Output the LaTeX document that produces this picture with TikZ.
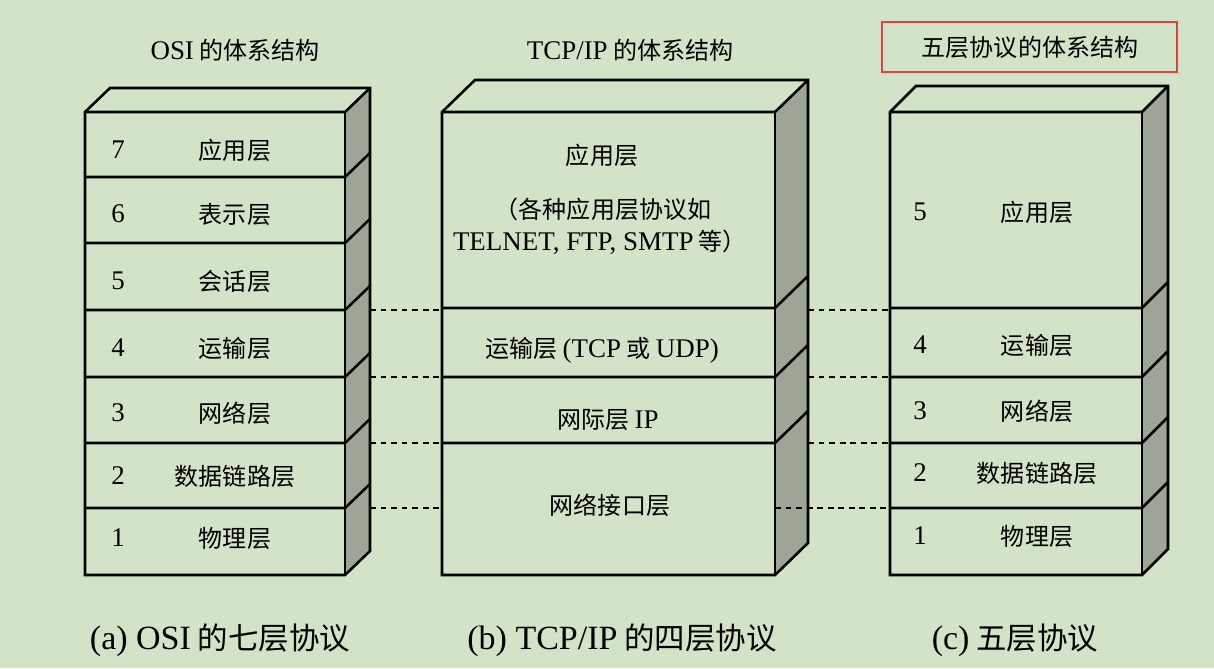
\documentclass[tikz,border=0pt]{standalone}
\usepackage{fontspec}
\setmainfont{Liberation Serif}
\newfontfamily\cjk{Noto Sans CJK SC}
\definecolor{bg}{HTML}{D3E3C8}
\definecolor{sidef}{HTML}{9CA596}
\definecolor{redb}{HTML}{E2413C}
\newcommand{\mystack}[5]{%
 \fill[sidef] (#2,112) -- (#2+#3,112-#4) -- (#2+#3,575-#4) -- (#2,575) -- cycle;
 \draw[box] (#1,112) -- (#1+#3,112-#4) -- (#2+#3,112-#4) -- (#2+#3,575-#4) -- (#2,575) -- (#1,575) -- cycle;
 \draw[box] (#1,112) -- (#2,112) -- (#2+#3,112-#4);
 \draw[box] (#2,112) -- (#2,575);
 \foreach \yy in {#5} {\draw[box] (#1,\yy) -- (#2,\yy) -- (#2+#3,\yy-#4);}
}
\tikzset{box/.style={line width=2.2pt,line join=miter},
 dsh/.style={line width=1.2pt,dash pattern=on 5pt off 4pt},
 lab/.style={font=\cjk\fontsize{20.5}{24}\selectfont,anchor=center},
 num/.style={font=\fontsize{23}{26}\selectfont,anchor=center},
 captxt/.style={font=\cjk\fontsize{26}{30}\selectfont,anchor=center}}
\newcommand{\lt}[1]{{\fontspec{Liberation Serif}\fontsize{23}{26}\selectfont #1}}
\newcommand{\lc}[1]{{\fontspec{Liberation Serif}\fontsize{29}{32}\selectfont #1}}
\begin{document}
\begin{tikzpicture}[x=0.03cm,y=-0.03cm]
\fill[bg] (0,0) rectangle (1214,668);
\useasboundingbox (0,0) rectangle (1214,668);
\foreach \yy in {310,377,443,508}{\draw[dsh] (370,\yy) -- (442,\yy);}
\foreach \yy in {310,377,443}{\draw[dsh] (808,\yy) -- (890,\yy);}
\mystack{85}{345}{25}{24}{177,243,310,377,443,508}
\mystack{442}{775}{33}{32}{308,377,443}
\mystack{890}{1142}{26}{26}{308,377,443,508}
\draw[dsh] (775,508) -- (890,508);
\node[lab] (ta) at (235,50) {\lt{OSI} 的体系结构};
\node[lab] (tb) at (630,50) {\lt{TCP/IP} 的体系结构};
\node[lab] (tc) at (1030,47) {五层协议的体系结构};
\draw[redb,line width=2.5pt] (882,22) rectangle (1177,72);
\foreach \n/\t/\y in {7/应用层/150,6/表示层/214,5/会话层/281,4/运输层/348,3/网络层/413,2/数据链路层/476,1/物理层/538}{
 \node[num] (an\n) at (118,\y) {\n};
 \node[lab] (al\n) at (235,\y) {\t};}
\node[lab] (b1) at (602,155) {应用层};
\node[lab] (b2) at (603,209) {（各种应用层协议如};
\node[lab] (b3) at (600,242) {\lt{TELNET, FTP, SMTP} 等）};
\node[lab] (b4) at (602,350) {运输层 \lt{(TCP} 或 \lt{UDP)}};
\node[lab] (b5) at (608,420) {网际层 \lt{IP}};
\node[lab] (b6) at (610,505) {网络接口层};
\foreach \n/\t/\y in {5/应用层/212,4/运输层/345,3/网络层/411,2/数据链路层/473,1/物理层/536}{
 \node[num] (cn\n) at (920,\y) {\n};
 \node[lab] (cl\n) at (1037,\y) {\t};}
\node[captxt] (ca) at (220,640) {\lc{(a) OSI} 的七层协议};
\node[captxt] (cb) at (622,640) {\lc{(b) TCP/IP} 的四层协议};
\node[captxt] (cc) at (1015,640) {\lc{(c)} 五层协议};
\end{tikzpicture}
\end{document}
